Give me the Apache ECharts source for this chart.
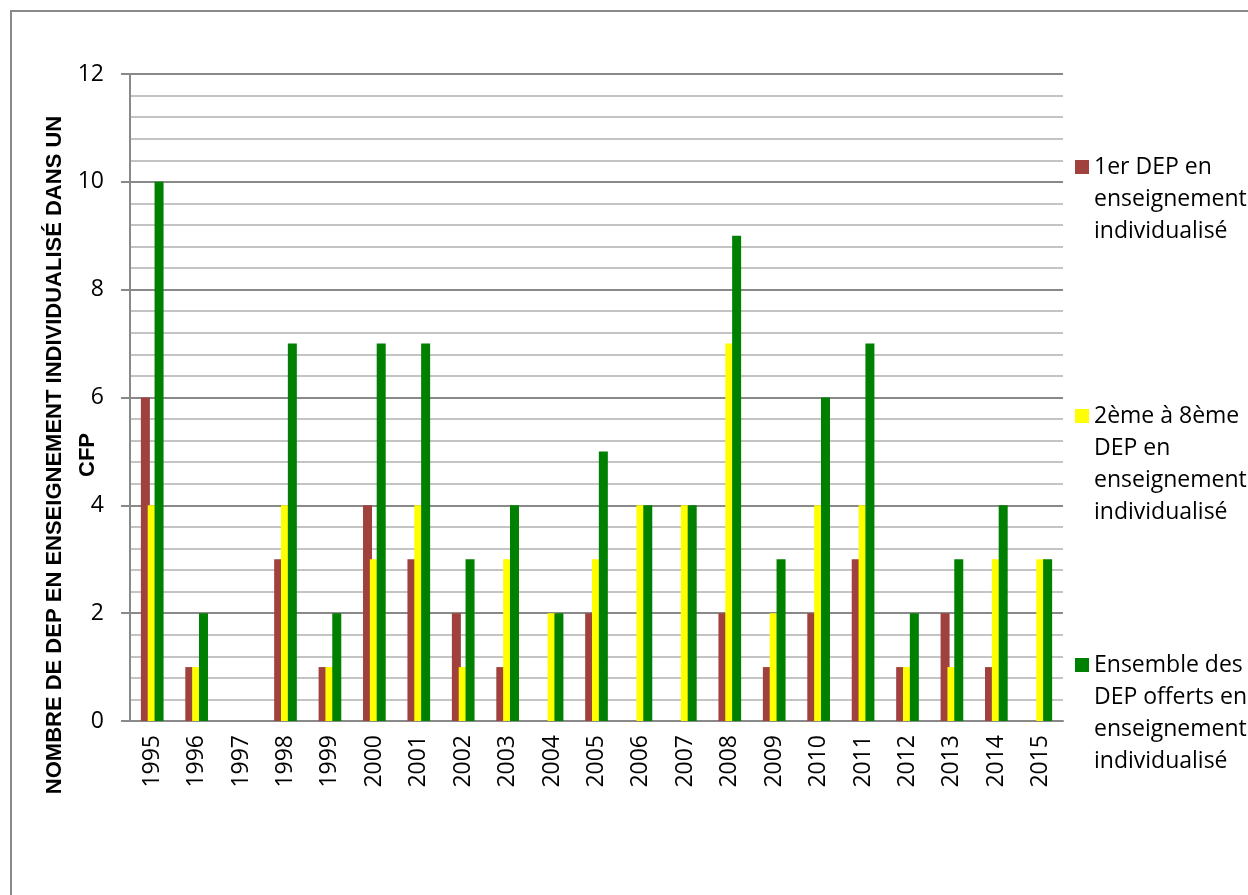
<!DOCTYPE html>
<html>
<head>
<meta charset="utf-8">
<script src="https://cdn.jsdelivr.net/npm/echarts@6/dist/echarts.min.js"></script>
<style>
  html, body { margin: 0; padding: 0; background: #fff; }
  #chart { width: 1248px; height: 895px; }
</style>
</head>
<body>
<div id="chart"></div>
<script>
const categories = ['1995', '1996', '1997', '1998', '1999', '2000', '2001', '2002', '2003', '2004',
  '2005', '2006', '2007', '2008', '2009', '2010', '2011', '2012', '2013', '2014', '2015'];
const premierDep = [6, 1, 0, 3, 1, 4, 3, 2, 1, 0, 2, 0, 0, 2, 1, 2, 3, 1, 2, 1, 0];
const deuxiemeAHuitieme = [4, 1, 0, 4, 1, 3, 4, 1, 3, 2, 3, 4, 4, 7, 2, 4, 4, 1, 1, 3, 3];
const ensembleDep = [10, 2, 0, 7, 2, 7, 7, 3, 4, 2, 5, 4, 4, 9, 3, 6, 7, 2, 3, 4, 3];
const yTicks = [0, 2, 4, 6, 8, 10, 12];

const seriesNames = [
  '1er DEP en enseignement individualisé',
  '2ème à 8ème DEP en enseignement individualisé',
  'Ensemble des DEP offerts en enseignement individualisé'
];
// legend text broken like in the original
const legendLines = [
  ['1er DEP en', 'enseignement', 'individualisé'],
  ['2ème à 8ème', 'DEP en', 'enseignement', 'individualisé'],
  ['Ensemble des', 'DEP offerts en', 'enseignement', 'individualisé']
];
const colors = ['#A0413D', '#FFFF00', '#008000'];
const legendTops = [87, 304, 553];

const font = '"Open Sans", sans-serif';
const gray = '#898989';

const myChart = echarts.init(document.getElementById('chart'));

// pad with blank lines on top so the square sits next to the first line
const legendText = (name) => {
  const lines = legendLines[seriesNames.indexOf(name)];
  const pad = new Array(lines.length - 1).fill('');
  return pad.concat(lines).join('\n');
};

const option = {
  backgroundColor: '#fff',
  animation: false,
  color: colors,
  grid: {
    left: 130,
    right: 185,
    top: 74,
    bottom: 174
  },
  legend: seriesNames.map((name, i) => ({
    orient: 'vertical',
    left: 1075,
    top: legendTops[i],
    padding: 0,
    icon: 'rect',
    itemWidth: 14,
    itemHeight: 14,
    selectedMode: false,
    data: [name],
    formatter: legendText,
    textStyle: {
      fontFamily: font,
      fontSize: 23,
      lineHeight: 32,
      color: '#000'
    }
  })),
  xAxis: {
    type: 'category',
    data: categories,
    axisLine: { lineStyle: { color: gray, width: 2 } },
    axisTick: { show: false },
    axisLabel: {
      rotate: 90,
      margin: 14,
      interval: 0,
      color: '#000',
      fontFamily: font,
      fontSize: 23
    }
  },
  yAxis: {
    type: 'value',
    min: 0,
    max: 12,
    interval: 2,
    axisLine: { show: true, lineStyle: { color: gray, width: 2 } },
    axisTick: { show: true, length: 9, lineStyle: { color: gray, width: 2 } },
    axisLabel: {
      margin: 26,
      color: '#000',
      fontFamily: font,
      fontSize: 23,
      formatter: (v) => (yTicks.indexOf(v) >= 0 ? String(v) : '')
    },
    splitLine: { show: true, lineStyle: { color: gray, width: 2 } },
    minorTick: { show: false, splitNumber: 5 },
    minorSplitLine: { show: true, lineStyle: { color: '#C4C4C4', width: 2 } }
  },
  series: [premierDep, deuxiemeAHuitieme, ensembleDep].map((values, i) => ({
    name: seriesNames[i],
    type: 'bar',
    data: values,
    barWidth: 9,
    barGap: '-24%',
    itemStyle: { color: colors[i] }
  })),
  graphic: [
    {
      // outer frame of the chart, cut by the page on the right and bottom
      type: 'rect',
      shape: { x: 11, y: 11, width: 1400, height: 1000 },
      style: { fill: 'none', stroke: gray, lineWidth: 2 },
      silent: true
    },
    {
      type: 'text',
      x: 71,
      y: 455,
      rotation: Math.PI / 2,
      style: {
        text: 'NOMBRE DE DEP EN ENSEIGNEMENT INDIVIDUALISÉ DANS UN\nCFP',
        align: 'center',
        verticalAlign: 'middle',
        lineHeight: 33,
        fontFamily: '"Liberation Sans", Arial, sans-serif',
        fontWeight: 'bold',
        fontSize: 22,
        fill: '#000'
      }
    }
  ]
};

myChart.setOption(option, true);
</script>
</body>
</html>
